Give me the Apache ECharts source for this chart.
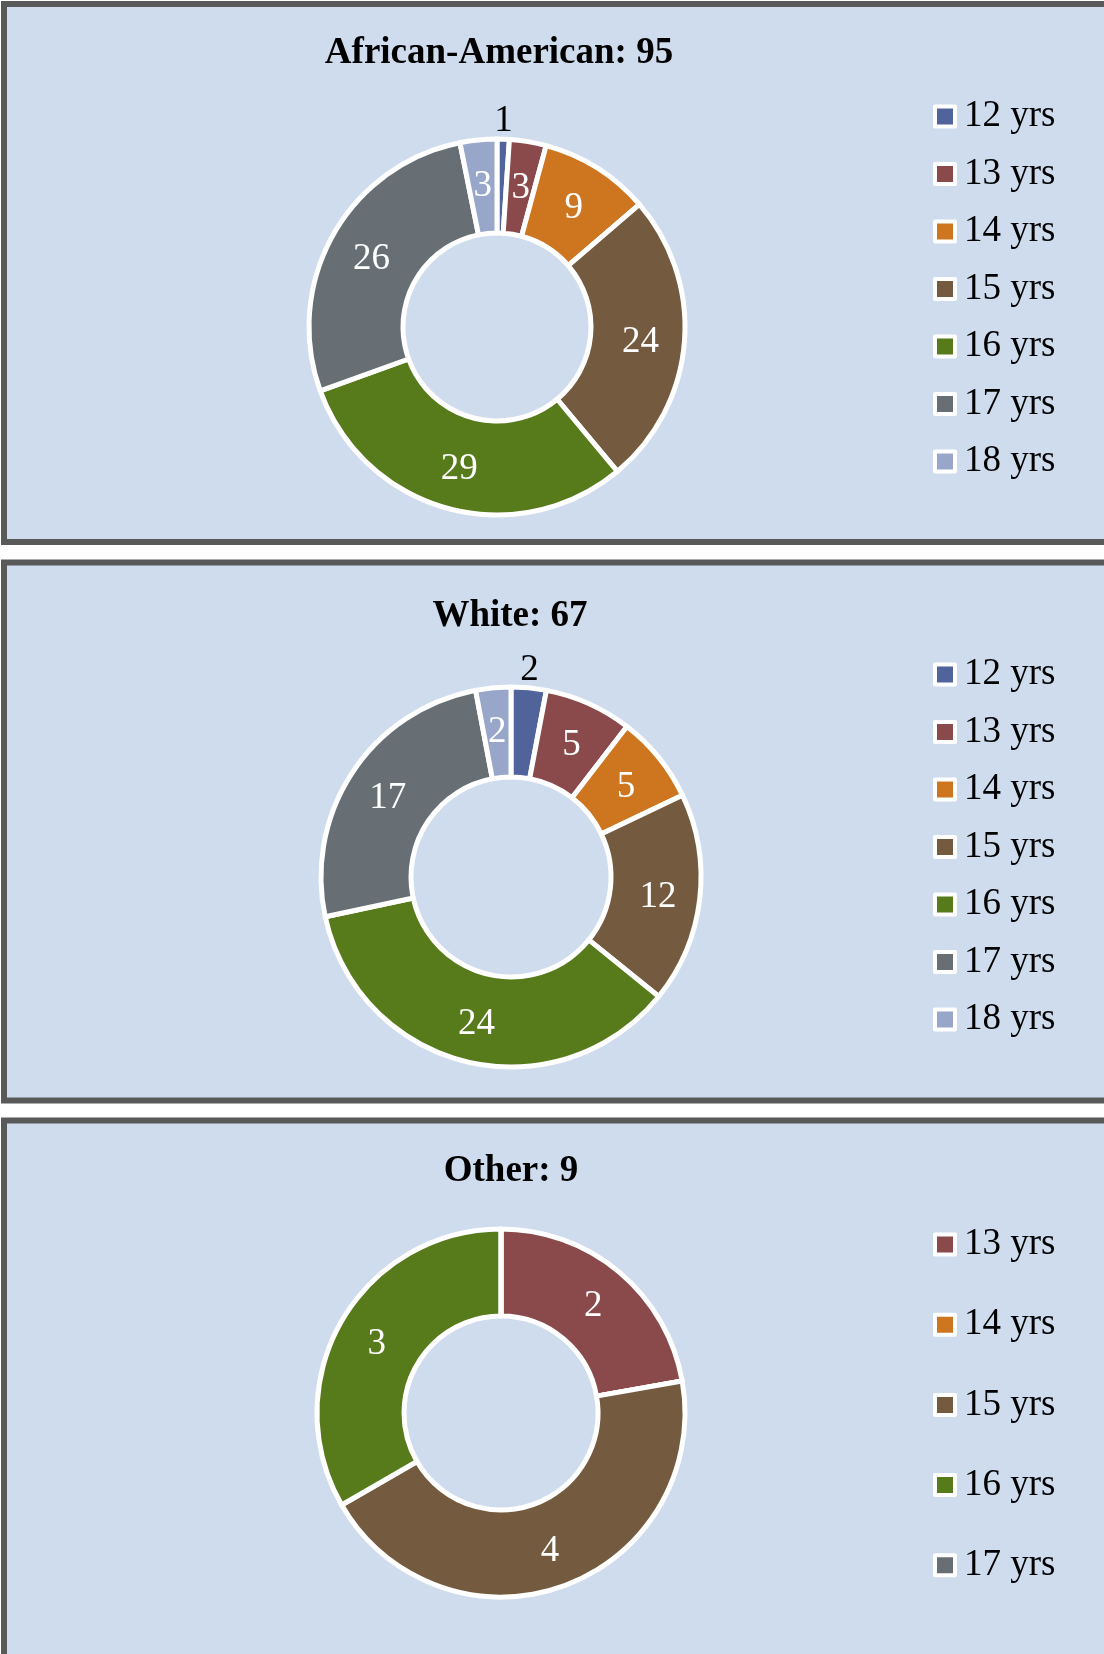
<!DOCTYPE html>
<html>
<head>
    <meta charset="utf-8" />
    <title>Age by race</title>
    <script src="https://cdn.jsdelivr.net/npm/echarts@6/dist/echarts.min.js"></script>
    <style>
        html, body { margin: 0; padding: 0; background: #ffffff; }
    </style>
</head>
<body>
<div id="main" style="width: 1104px; height: 1654px"></div>
<script type="text/javascript">
    // data
    var ages = ['12 yrs', '13 yrs', '14 yrs', '15 yrs', '16 yrs', '17 yrs', '18 yrs'];
    var ageColors = ['#50639a', '#8a494a', '#cd761f', '#745a3e', '#577a1b', '#676f75', '#97a6c9'];

    var africanAmerican = [1, 3, 9, 24, 29, 26, 3];
    var white = [2, 5, 5, 12, 24, 17, 2];
    var otherAges = ['13 yrs', '14 yrs', '15 yrs', '16 yrs', '17 yrs'];
    var other = [2, 0, 4, 3, 0];

    var titles = ['African-American: 95', 'White: 67', 'Other: 9'];
    // slices whose value label sits outside the ring
    var outsideLabels = [['12 yrs'], ['12 yrs'], []];

    var font = '"Liberation Serif", "DejaVu Serif", serif';
    var panelBg = '#cfdcee';

    function buildData(names, values, outside) {
        return names.map(function (n, i) {
            var item = {
                name: n,
                value: values[i],
                itemStyle: { color: ageColors[ages.indexOf(n)] }
            };
            if (outside.indexOf(n) >= 0) {
                // small slice: number goes above the ring in black
                item.label = { position: 'outside', color: '#000', offset: [-14, -14] };
                item.labelLine = { show: false, length: 4, length2: 0 };
            }
            return item;
        });
    }

    function pie(names, values, outside, center, radius) {
        return {
            type: 'pie',
            center: center,
            radius: radius,
            startAngle: 90,
            clockwise: true,
            avoidLabelOverlap: false,
            animation: false,
            silent: true,
            itemStyle: { borderColor: '#ffffff', borderWidth: 5 },
            label: {
                show: true,
                position: 'inside',
                color: '#ffffff',
                fontFamily: font,
                fontSize: 37,
                offset: [0, 3],
                formatter: function (p) { return p.value ? String(p.value) : ''; }
            },
            labelLine: { show: false },
            data: buildData(names, values, outside)
        };
    }

    function legend(names, top, gap) {
        return {
            orient: 'vertical',
            left: 928,
            top: top,
            icon: 'rect',
            itemWidth: 20,
            itemHeight: 20,
            itemGap: gap,
            selectedMode: false,
            itemStyle: { borderColor: '#ffffff', borderWidth: 4 },
            textStyle: {
                fontFamily: font,
                fontSize: 37,
                lineHeight: 36,
                color: '#000',
                padding: [0, 0, 0, 4]
            },
            data: names
        };
    }

    function title(text, cx, cy) {
        return {
            text: text,
            left: cx,
            top: cy,
            textAlign: 'center',
            textStyle: { fontFamily: font, fontSize: 37, fontWeight: 'bold', color: '#000' }
        };
    }

    function panel(y, h) {
        return {
            type: 'rect',
            z: -10,
            shape: { x: 4, y: y, width: 1200, height: h },
            style: { fill: panelBg, stroke: '#595959', lineWidth: 6 }
        };
    }

    var myChart = echarts.init(document.getElementById('main'));
    myChart.setOption({
        backgroundColor: '#ffffff',
        animation: false,
        graphic: [
            panel(4, 538),
            panel(562.5, 538),
            panel(1120.5, 600)
        ],
        title: [
            title(titles[0], 494, 30),
            title(titles[1], 505, 593),
            title(titles[2], 506, 1148)
        ],
        legend: [
            legend(ages, 93, 20.5),
            legend(ages, 651, 20.5),
            legend(otherAges, 1221, 43.2)
        ],
        series: [
            pie(ages, africanAmerican, outsideLabels[0], [497, 327], [94, 188]),
            pie(ages, white, outsideLabels[1], [511, 877], [100, 190]),
            pie(otherAges, other, outsideLabels[2], [501, 1413], [97, 184])
        ]
    });
</script>
</body>
</html>
